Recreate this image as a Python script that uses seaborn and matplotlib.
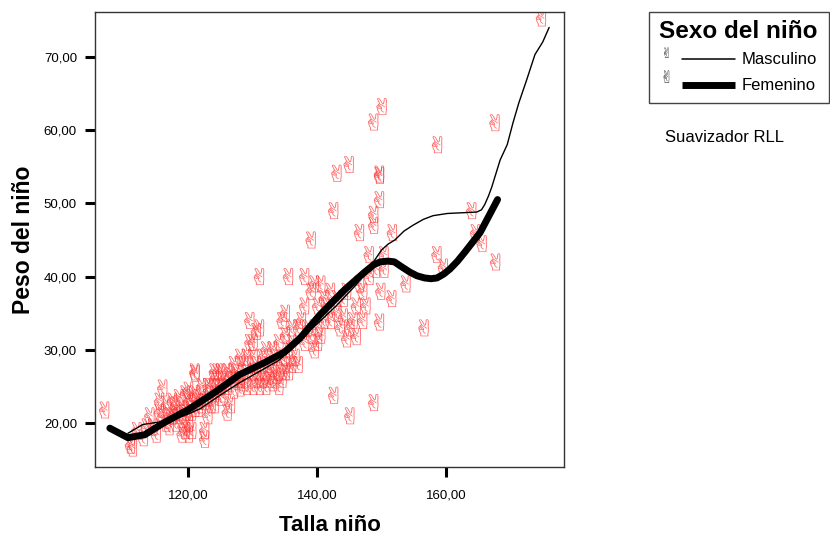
import matplotlib
matplotlib.use("Agg")
import matplotlib.pyplot as plt
import seaborn as sns
import pandas as pd
from matplotlib.font_manager import FontProperties
from matplotlib.lines import Line2D
from matplotlib.patches import Rectangle
from matplotlib.path import Path
from matplotlib.textpath import TextPath

# Points
talla = [107, 111, 111.3, 112, 113, 113.5, 114, 114.5, 115, 115.5, 115.5, 116,
         116, 116.5, 116.5, 117, 117, 117.5, 117.5, 118, 118, 118, 118.5, 118.5,
         119, 119, 119, 119.5, 119.5, 119.5, 120, 120, 120, 120, 120, 120.5,
         120.5, 120.5, 121, 121, 121, 121, 121.5, 121.5, 122, 122, 122, 122.5,
         122.5, 122.5, 123, 123, 123, 123.5, 123.5, 124, 124, 124, 124, 124.5,
         124.5, 125, 125, 125, 125.5, 125.5, 126, 126, 126, 126.5, 126.5, 127,
         127, 127, 127.5, 128, 128, 128, 128.5, 128.5, 129, 129, 129, 129.5,
         129.5, 130, 130, 130, 130, 130.5, 130.5, 130.5, 131, 131, 131, 131,
         131.5, 131.5, 132, 132, 132, 132.5, 132.5, 133, 133, 133, 133.5, 133.5,
         134, 134, 134, 134.5, 134.5, 134.5, 135, 135, 135, 135, 135.5, 135.5,
         135.5, 136, 136, 136, 136.5, 137, 137, 137.5, 138, 138, 138, 138.5,
         139, 139, 139.5, 139.5, 140, 140, 140, 140.5, 140.5, 141, 141, 139,
         141.5, 142, 142, 142.5, 142.5, 143, 143, 143, 143.5, 144, 144, 144.5,
         144.5, 144.9, 145, 145, 145.5, 146, 146, 146.5, 146.5, 147, 147, 147.5,
         148, 148, 148.7, 148.7, 148.7, 148.7, 149, 149.6, 149.6, 149.6, 149.6, 149.8,
         150, 150.3, 150.3, 151.5, 151.6, 153.7, 156.5, 158.5, 158.6, 159.5, 163.9, 164.5,
         165.5, 167.5, 167.6, 174.7]
peso = [21.8, 17, 16.6, 19, 18, 19.5, 21, 19.5, 18.5, 21.5, 23, 21,
        24.8, 20, 22.5, 19.5, 21, 21, 23, 20, 21.5, 22.5, 21, 23.5,
        18.5, 20.5, 22, 19, 21.5, 24, 18.5, 20, 21.5, 23, 24.5, 19,
        21.5, 23.5, 27, 26.8, 22, 24, 22, 23, 22.5, 23.5, 25, 17.8,
        19, 23, 21, 23.5, 25, 22.5, 25, 22.5, 24, 26, 27, 25,
        27, 23.5, 25, 27, 24, 26, 21.5, 25, 27, 22.5, 26.5, 24.5,
        26, 28, 27, 24.8, 26, 29, 25.5, 28, 25, 27, 29, 31,
        34, 25, 27, 29, 31, 26, 28, 32.5, 25, 27, 33, 40,
        26, 29, 25, 27, 30, 26, 28, 25.5, 27.5, 30, 26.5, 29,
        25, 27, 31, 26, 28.5, 34, 27, 29, 32, 35, 27, 30,
        40, 28, 31, 33, 29, 28, 33, 34, 31, 36, 40, 33,
        32, 38, 30, 39, 31, 33, 36, 32, 39, 34, 37, 45,
        36, 34, 38, 23.8, 49, 35, 37, 54.1, 33, 34.5, 37, 31.5,
        38, 55.3, 21, 33, 34, 31.8, 36, 39, 46, 34, 38, 36,
        40, 43, 22.8, 47, 48.5, 61.1, 41, 33.8, 50.5, 53.8, 54, 38,
        63.2, 43, 41, 37, 46, 39, 33, 43, 58, 41.3, 49, 46,
        44.5, 61, 42, 75.3]

# Smoother curves
masc_x = [110.7, 113, 116, 118, 120, 122, 125, 128, 131, 134, 136, 138, 140, 143, 146, 148,
          150, 151, 152.1, 153.5, 154.9, 156.5, 158, 160.2, 162.5, 164.8, 165.5, 166, 166.6,
          167.1, 168.4, 169.5, 170.4, 171.3, 172.5, 173.8, 175, 176]
masc_y = [18.6, 19.8, 20.2, 20.6, 21.2, 22, 23.8, 25.5, 27, 28.5, 30, 32, 33.5, 36, 38.8, 41,
          43.6, 44.4, 45, 46.2, 47, 47.8, 48.3, 48.6, 48.7, 48.8, 49.1, 49.8, 51,
          52.2, 55.9, 58, 61, 63.7, 66.8, 70.3, 72, 74]
fem_x = [107.9, 110.7, 113.3, 116.4, 120, 124.2, 128, 132, 135, 137.4, 140.5, 144.3, 147.4,
         148.8, 149.8, 151, 152, 153, 154.4, 155.5, 156.7, 157.7, 158.6, 159.6, 160.6, 161.8,
         163, 165.3, 168]
fem_y = [19.3, 18, 18.4, 20.1, 21.8, 24.2, 26.6, 28.3, 29.7, 31.6, 34.8, 38.2, 40.6,
         41.6, 42, 42.1, 42, 41.4, 40.6, 40.1, 39.8, 39.7, 39.8, 40.3, 41, 42.1,
         43.4, 46, 50.5]

xticks = [120, 140, 160]
yticks = [20, 30, 40, 50, 60, 70]

sns.set_style("white")
plt.rcParams['font.family'] = ['Liberation Sans', 'DejaVu Sans']
plt.rcParams['text.color'] = 'black'
plt.rcParams['axes.labelcolor'] = 'black'
plt.rcParams['xtick.labelcolor'] = 'black'
plt.rcParams['ytick.labelcolor'] = 'black'

df = pd.DataFrame({"talla": talla, "peso": peso})

# Hand glyph as a marker, a bit wider than the font draws it
glyph = TextPath((0, 0), "\u270c", size=1, prop=FontProperties(family="DejaVu Sans"))
verts = glyph.vertices.copy()
verts[:, 0] = (verts[:, 0] - verts[:, 0].mean()) * 1.3
verts[:, 1] = verts[:, 1] - (verts[:, 1].max() + verts[:, 1].min()) / 2
hand = Path(verts, glyph.codes)

fig = plt.figure(figsize=(8.3, 5.4), dpi=100)
ax = fig.add_axes([95 / 830, 1 - 467 / 540, 469 / 830, 455 / 540])

sns.scatterplot(data=df, x="talla", y="peso", ax=ax, marker=hand, s=270,
                color="#ff2a2a", alpha=0.7, linewidth=0, edgecolor="none")
sns.lineplot(x=masc_x, y=masc_y, ax=ax, color="black", lw=1.0, errorbar=None, sort=False)
sns.lineplot(x=fem_x, y=fem_y, ax=ax, color="black", lw=5, errorbar=None, sort=False)

ax.set_xlim(105.6, 178.3)
ax.set_ylim(14, 76.1)
ax.set_xticks(xticks)
ax.set_yticks(yticks)
ax.set_xticklabels([f"{v},00" for v in xticks], fontsize=9.5)
ax.set_yticklabels([f"{v},00" for v in yticks], fontsize=9.5)
ax.tick_params(direction="out", length=7, width=2.2, color="black", left=True, bottom=True)
ax.tick_params(axis="x", pad=9)
ax.tick_params(axis="y", pad=6)
for s in ax.spines.values():
    s.set_color("#333333")
    s.set_linewidth(1)
ax.set_xlabel("Talla niño", fontsize=16, fontweight="bold", labelpad=10)
ax.set_ylabel("Peso del niño", fontsize=16.5, fontweight="bold", labelpad=6)

# Legend box on the right
tf = fig.transFigure
fig.add_artist(Rectangle((649 / 830, 1 - 103 / 540), 180 / 830, 91 / 540, transform=tf,
                         fill=False, ec="#444444", lw=1))
fig.text(659 / 830, 1 - 32 / 540, "Sexo del niño", fontsize=17.5, fontweight="bold", va="center")
fig.add_artist(Line2D([682 / 830, 735 / 830], [1 - 59 / 540] * 2, transform=tf, color="black", lw=1.1))
fig.add_artist(Line2D([682 / 830, 735 / 830], [1 - 85 / 540] * 2, transform=tf, color="black", lw=5,
                      solid_capstyle="butt"))
fig.text(742 / 830, 1 - 59 / 540, "Masculino", fontsize=12, va="center")
fig.text(742 / 830, 1 - 86 / 540, "Femenino", fontsize=12, va="center")
fig.text(665 / 830, 1 - 138 / 540, "Suavizador RLL", fontsize=12, va="center")
fig.text(666 / 830, 1 - 54 / 540, "\u270c", fontsize=10, color="#444444", va="center", ha="center",
         family="DejaVu Sans")
fig.text(666 / 830, 1 - 78 / 540, "\u270c", fontsize=12, color="#444444", va="center", ha="center",
         family="DejaVu Sans")

fig.savefig("out.png", dpi=100)
